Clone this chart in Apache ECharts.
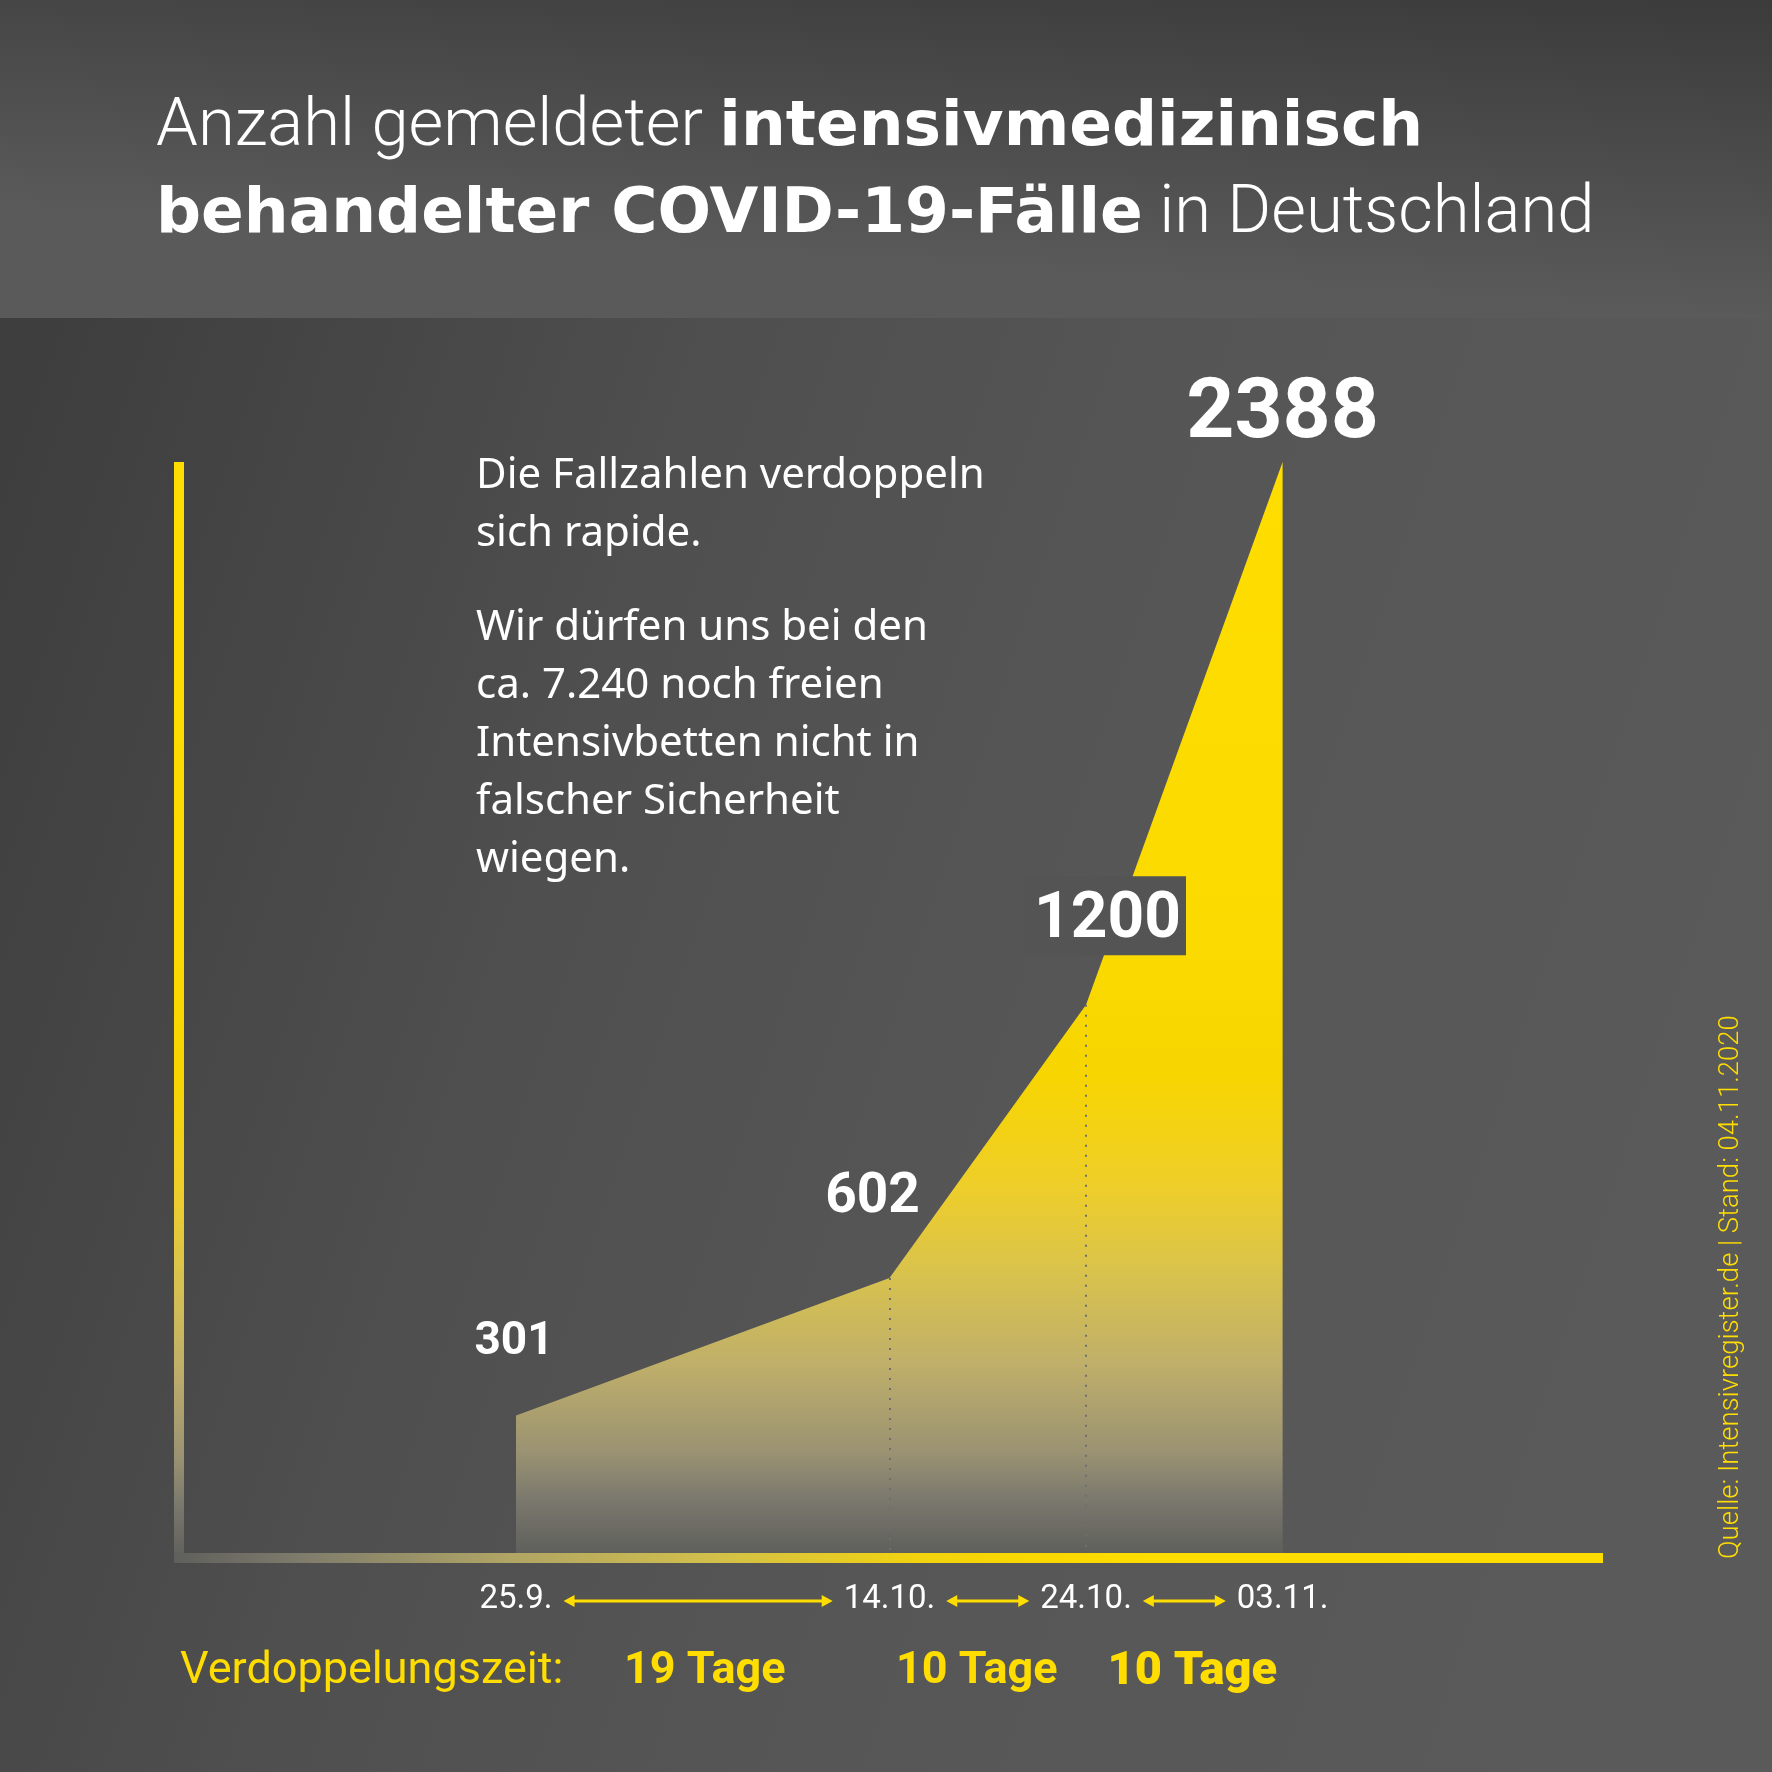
<!DOCTYPE html>
<html>
<head>
<meta charset="utf-8">
<title>Intensivmedizinisch behandelte COVID-19-Fälle</title>
<script src="https://cdn.jsdelivr.net/npm/echarts@6/dist/echarts.min.js"></script>
<style>
  html, body { margin: 0; padding: 0; background: #4a4a4a; }
  #chart { width: 1772px; height: 1772px; }
</style>
</head>
<body>
<div id="chart"></div>
<script>
// data
const dates = ['2020-09-25', '2020-10-14', '2020-10-24', '2020-11-03']
const dateLabels = ['25.9.', '14.10.', '24.10.', '03.11.']
const cases = [301, 602, 1200, 2388]
const doublingDays = [19, 10, 10]

const YELLOW = '#FFDD00'
const FONT = 'Roboto'
const DAY = 24 * 3600 * 1000

// day number of each date, counted from the first one
const t0 = Date.parse(dates[0])
const dayNum = dates.map(d => Math.round((Date.parse(d) - t0) / DAY))

const measureCtx = document.createElement('canvas').getContext('2d')
measureCtx.font = '33px ' + FONT
function textWidth(s) {
  return measureCtx.measureText(s).width
}

const pointLabels = [
  { fontSize: 46, distance: 49, offset: [-2, 0] },
  { fontSize: 55, distance: 52, offset: [-17, 0] },
  { fontSize: 64, distance: 49, offset: [19, 0], backgroundColor: '#545454', padding: [13, 5, 2, 10] },
  { fontSize: 84, distance: 4, offset: [0, 0] }
]

// small sideways nudges of the "Tage" captions, and their weights
const tageShift = [2, -11, 8]
const tageWeight = [700, 700, 900]

const fadeStops = [
  { offset: 0, color: '#FFDD00' },
  { offset: 0.45, color: '#FADA00' },
  { offset: 0.56, color: '#F7D500' },
  { offset: 0.665, color: '#EECE2A' },
  { offset: 0.746, color: '#D8C24E' },
  { offset: 0.827, color: '#BFAF6A' },
  { offset: 0.908, color: '#9A9272' },
  { offset: 0.949, color: '#7C7A6E' },
  { offset: 1, color: '#5F5F5C' }
]

const chart = echarts.init(document.getElementById('chart'), null, { renderer: 'canvas' })

const option = {
  animation: false,
  backgroundColor: 'transparent',
  grid: { left: 174, right: 169, top: 462, bottom: 219, containLabel: false },
  xAxis: {
    type: 'value',
    min: -17.4,
    max: 55.3,
    offset: 5,
    axisLine: {
      show: true,
      onZero: false,
      lineStyle: {
        width: 10,
        cap: 'butt',
        color: {
          type: 'linear', global: true, x: 174, y: 0, x2: 1603, y2: 0,
          colorStops: [
            { offset: 0, color: '#5f5f5c' },
            { offset: 0.09, color: '#7f7c6c' },
            { offset: 0.234, color: '#b0a565' },
            { offset: 0.376, color: '#d2bf4b' },
            { offset: 0.52, color: '#f2d30f' },
            { offset: 0.6, color: '#fad800' },
            { offset: 0.68, color: YELLOW },
            { offset: 1, color: YELLOW }
          ]
        }
      }
    },
    axisTick: { show: false },
    splitLine: { show: false },
    axisLabel: {
      customValues: dayNum,
      formatter: v => dateLabels[dayNum.indexOf(v)] || '',
      color: '#ffffff',
      fontFamily: FONT,
      fontSize: 33,
      margin: 25
    }
  },
  yAxis: {
    type: 'value',
    min: 0,
    max: 2388,
    offset: -5,
    axisLine: {
      show: true,
      onZero: false,
      lineStyle: {
        width: 10,
        cap: 'butt',
        color: { type: 'linear', global: true, x: 0, y: 462, x2: 0, y2: 1558, colorStops: fadeStops }
      }
    },
    axisTick: { show: false },
    axisLabel: { show: false },
    splitLine: { show: false }
  },
  graphic: [
    {
      type: 'rect', z: -100, silent: true,
      shape: { x: 0, y: 0, width: 1772, height: 318 },
      style: {
        fill: {
          type: 'linear', global: true, x: 1772, y: 0, x2: 1752, y2: 318,
          colorStops: [{ offset: 0, color: '#3b3b3b' }, { offset: 1, color: '#5a5a5a' }]
        }
      }
    },
    {
      type: 'rect', z: -100, silent: true,
      shape: { x: 0, y: 318, width: 1772, height: 1454 },
      style: {
        fill: {
          type: 'linear', x: 0, y: 0.1, x2: 1, y2: 0.5,
          colorStops: [
            { offset: 0, color: '#3e3e3e' },
            { offset: 0.35, color: '#4f4f4f' },
            { offset: 0.62, color: '#565656' },
            { offset: 1, color: '#5a5a5a' }
          ]
        }
      }
    },
    {
      type: 'text', z: 100, x: 156, y: 85,
      style: {
        text: '{l|Anzahl gemeldeter }{b|intensivmedizinisch}\n{b|behandelter COVID-19-Fälle}{l| in Deutschland}',
        align: 'left',
        verticalAlign: 'top',
        rich: {
          l: { fontFamily: FONT, fontWeight: 300, fontSize: 67, fill: '#ffffff', lineHeight: 87 },
          b: { fontFamily: 'DejaVu Sans', fontWeight: 'bold', fontSize: 63, fill: '#ffffff', lineHeight: 87 }
        }
      }
    },
    {
      type: 'text', z: 100, x: 476, y: 447,
      style: {
        text: 'Die Fallzahlen verdoppeln\nsich rapide.',
        fill: '#ffffff', fontFamily: 'Noto Sans', fontSize: 42, lineHeight: 58,
        align: 'left', verticalAlign: 'top'
      }
    },
    {
      type: 'text', z: 100, x: 476, y: 599,
      style: {
        text: 'Wir dürfen uns bei den\nca. 7.240 noch freien\nIntensivbetten nicht in\nfalscher Sicherheit\nwiegen.',
        fill: '#ffffff', fontFamily: 'Noto Sans', fontSize: 42, lineHeight: 58,
        align: 'left', verticalAlign: 'top'
      }
    },
    {
      type: 'text', z: 100, x: 180, y: 1672,
      style: {
        text: 'Verdoppelungszeit:',
        fill: YELLOW, fontFamily: FONT, fontSize: 45,
        align: 'left', verticalAlign: 'middle'
      }
    },
    {
      type: 'text', z: 100, x: 1731, y: 1559, rotation: Math.PI / 2,
      style: {
        text: 'Quelle: Intensivregister.de | Stand: 04.11.2020',
        fill: YELLOW, fontFamily: FONT, fontWeight: 300, fontSize: 27.5,
        align: 'left', verticalAlign: 'middle'
      }
    }
  ],
  series: [
    {
      type: 'line',
      data: dayNum.map((d, i) => ({ value: [d, cases[i]], label: pointLabels[i] })),
      symbol: 'circle',
      symbolSize: 1,
      itemStyle: { color: 'rgba(0,0,0,0)' },
      lineStyle: { width: 0 },
      areaStyle: {
        opacity: 1,
        color: { type: 'linear', x: 0, y: 0, x2: 0, y2: 1, colorStops: fadeStops }
      },
      label: {
        show: true,
        position: 'top',
        formatter: p => String(cases[p.dataIndex]),
        color: '#ffffff',
        fontFamily: FONT,
        fontWeight: 'bold'
      },
      markLine: {
        silent: true,
        symbol: ['none', 'none'],
        label: { show: false },
        lineStyle: { color: '#6f6f72', width: 2, type: [2, 8] },
        data: [1, 2].map(i => [
          { coord: [dayNum[i], cases[i]] },
          { coord: [dayNum[i], 0] }
        ])
      },
      z: 3
    },
    {
      type: 'custom',
      silent: true,
      clip: false,
      dimensions: ['start', 'end', 'y', 'days'],
      encode: { x: [0, 1], y: 2 },
      data: doublingDays.map((d, i) => [dayNum[i], dayNum[i + 1], 0, d]),
      renderItem: (params, api) => {
        const i = params.dataIndex
        const a = api.coord([api.value(0), 0])
        const b = api.coord([api.value(1), 0])
        const y = a[1] + 48
        const x0 = a[0] + textWidth(dateLabels[i]) / 2 + 11
        const x1 = b[0] - textWidth(dateLabels[i + 1]) / 2 - 11
        const head = 11
        const hh = 6
        return {
          type: 'group',
          children: [
            { type: 'line', shape: { x1: x0 + head - 1, y1: y, x2: x1 - head + 1, y2: y }, style: { stroke: YELLOW, lineWidth: 3 } },
            { type: 'polygon', shape: { points: [[x0, y], [x0 + head, y - hh], [x0 + head, y + hh]] }, style: { fill: YELLOW } },
            { type: 'polygon', shape: { points: [[x1, y], [x1 - head, y - hh], [x1 - head, y + hh]] }, style: { fill: YELLOW } },
            {
              type: 'text',
              x: (a[0] + b[0]) / 2 + tageShift[i],
              y: a[1] + 119,
              style: {
                text: api.value(3) + ' Tage',
                fill: YELLOW,
                fontFamily: FONT,
                fontWeight: tageWeight[i],
                fontSize: i === 2 ? 47 : 45,
                align: 'center',
                verticalAlign: 'middle'
              }
            }
          ]
        }
      }
    }
  ]
}

chart.setOption(option)
window.addEventListener('resize', () => chart.resize())
</script>
</body>
</html>
